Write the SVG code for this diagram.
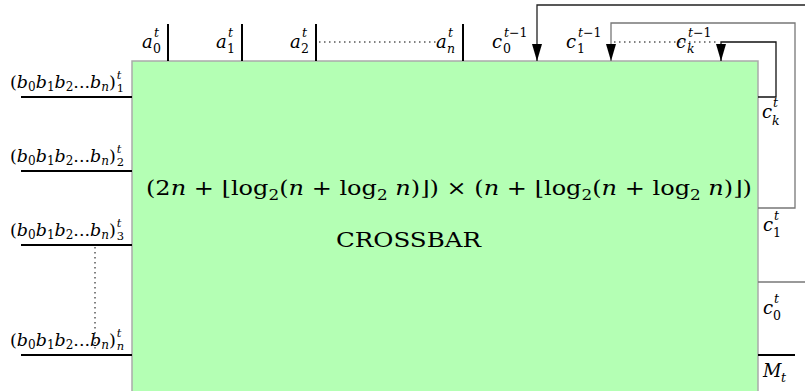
<svg xmlns="http://www.w3.org/2000/svg" width="805" height="391" viewBox="0 0 805 391">
<defs>
<style>
.m{font-family:"DejaVu Serif","Liberation Serif",serif;font-size:18px;font-style:italic;fill:#000}
.s{font-size:12.5px;font-style:normal}
.si{font-size:12.5px;font-style:italic}
.lb{font-family:"DejaVu Serif","Liberation Serif",serif;font-size:17.5px;fill:#000}
.big{font-family:"DejaVu Serif","Liberation Serif",serif;font-size:20px;fill:#000}
.i{font-style:italic}
.in{stroke:#000;stroke-width:2;fill:none}
.fb{fill:none;stroke-width:1.3}
.dot{stroke:#000;stroke-width:1;stroke-dasharray:1.5 3.5;fill:none}
</style>
<marker id="arr" viewBox="0 0 17 10" refX="17" refY="5" markerWidth="17" markerHeight="10" markerUnits="userSpaceOnUse" orient="auto">
<path d="M0,0 L17,5 L0,10 Z" fill="#000"/>
</marker>
</defs>

<g id="crossbar">
<rect x="132" y="61" width="626" height="340" fill="#b4ffb4" stroke="#aaaaaa" stroke-width="1.5"/>
<text class="big" x="146" y="195" textLength="606" lengthAdjust="spacingAndGlyphs">(2<tspan class="i">n</tspan> + ⌊log<tspan dy="5" font-size="14">2</tspan><tspan dy="-5">(</tspan><tspan class="i">n</tspan> + log<tspan dy="5" font-size="14">2</tspan><tspan dy="-5"> </tspan><tspan class="i">n</tspan>)⌋) × (<tspan class="i">n</tspan> + ⌊log<tspan dy="5" font-size="14">2</tspan><tspan dy="-5">(</tspan><tspan class="i">n</tspan> + log<tspan dy="5" font-size="14">2</tspan><tspan dy="-5"> </tspan><tspan class="i">n</tspan>)⌋)</text>
<text class="big" x="336" y="247" textLength="145" lengthAdjust="spacingAndGlyphs">CROSSBAR</text>
</g>

<g id="connectors">
<line class="in" x1="168" y1="24" x2="168" y2="61"/>
<line class="in" x1="242" y1="24" x2="242" y2="61"/>
<line class="in" x1="316" y1="24" x2="316" y2="61"/>
<line class="in" x1="463" y1="24" x2="463" y2="61"/>
<line class="dot" x1="319" y1="42" x2="437" y2="42"/>
<line class="in" x1="21" y1="97" x2="132" y2="97"/>
<line class="in" x1="21" y1="171" x2="132" y2="171"/>
<line class="in" x1="21" y1="245" x2="132" y2="245"/>
<line class="in" x1="21" y1="355" x2="132" y2="355"/>
<line class="dot" x1="95" y1="247" x2="95" y2="352"/>
<path class="fb" stroke="#222" d="M805,5 H537 V61" marker-end="url(#arr)"/>
<path class="fb" stroke="#777" stroke-width="1.6" d="M758,208 H795 V23 H611 V61" marker-end="url(#arr)"/>
<path class="fb" stroke="#111" d="M758,97 H776 V42 H721 V61" marker-end="url(#arr)"/>
<line class="dot" x1="614" y1="42" x2="718" y2="42"/>
<line x1="758" y1="282" x2="805" y2="282" stroke="#777" stroke-width="1.3"/>
<line x1="758" y1="355" x2="795" y2="355" stroke="#000" stroke-width="2"/>
</g>

<g id="label-a0"><text class="m" x="142" y="48">a<tspan class="si" x="154" y="37">t</tspan><tspan class="s" x="153" y="53">0</tspan></text></g>
<g id="label-a1"><text class="m" x="216" y="48">a<tspan class="si" x="228" y="37">t</tspan><tspan class="s" x="227" y="53">1</tspan></text></g>
<g id="label-a2"><text class="m" x="290" y="48">a<tspan class="si" x="302" y="37">t</tspan><tspan class="s" x="301" y="53">2</tspan></text></g>
<g id="label-an"><text class="m" x="436" y="48">a<tspan class="si" x="448" y="37">t</tspan><tspan class="si" x="447" y="53">n</tspan></text></g>

<g id="label-c0prev"><text class="m" x="492" y="48">c<tspan class="si" x="504" y="37">t</tspan><tspan class="s">−1</tspan><tspan class="s" x="503" y="53">0</tspan></text></g>
<g id="label-c1prev"><text class="m" x="566" y="48">c<tspan class="si" x="578" y="37">t</tspan><tspan class="s">−1</tspan><tspan class="s" x="577" y="53">1</tspan></text></g>
<g id="label-ckprev"><text class="m" x="676" y="48">c<tspan class="si" x="688" y="37">t</tspan><tspan class="s">−1</tspan><tspan class="si" x="687" y="53">k</tspan></text></g>

<g id="label-ckt"><text class="m" x="762" y="118">c<tspan class="si" x="773" y="107">t</tspan><tspan class="si" x="772" y="125">k</tspan></text></g>
<g id="label-c1t"><text class="m" x="763" y="231">c<tspan class="si" x="774" y="220">t</tspan><tspan class="s" x="773" y="237">1</tspan></text></g>
<g id="label-c0t"><text class="m" x="763" y="314">c<tspan class="si" x="774" y="303">t</tspan><tspan class="s" x="773" y="320">0</tspan></text></g>
<g id="label-mt"><text class="m" x="763" y="377">M<tspan class="si" x="781" y="382">t</tspan></text></g>

<g id="label-b1"><text class="lb" x="10" y="88">(<tspan class="i">b</tspan><tspan font-size="12" dy="3">0</tspan><tspan class="i" dy="-3">b</tspan><tspan font-size="12" dy="3">1</tspan><tspan class="i" dy="-3">b</tspan><tspan font-size="12" dy="3">2</tspan><tspan dy="-3">...</tspan><tspan class="i">b</tspan><tspan class="i" font-size="12" dy="3">n</tspan><tspan dy="-3">)</tspan><tspan class="i" font-size="11.5" dx="1" dy="-9">t</tspan><tspan font-size="11.5" dx="-4.6" dy="13">1</tspan></text></g>
<g id="label-b2"><text class="lb" x="10" y="162">(<tspan class="i">b</tspan><tspan font-size="12" dy="3">0</tspan><tspan class="i" dy="-3">b</tspan><tspan font-size="12" dy="3">1</tspan><tspan class="i" dy="-3">b</tspan><tspan font-size="12" dy="3">2</tspan><tspan dy="-3">...</tspan><tspan class="i">b</tspan><tspan class="i" font-size="12" dy="3">n</tspan><tspan dy="-3">)</tspan><tspan class="i" font-size="11.5" dx="1" dy="-9">t</tspan><tspan font-size="11.5" dx="-4.6" dy="13">2</tspan></text></g>
<g id="label-b3"><text class="lb" x="10" y="236">(<tspan class="i">b</tspan><tspan font-size="12" dy="3">0</tspan><tspan class="i" dy="-3">b</tspan><tspan font-size="12" dy="3">1</tspan><tspan class="i" dy="-3">b</tspan><tspan font-size="12" dy="3">2</tspan><tspan dy="-3">...</tspan><tspan class="i">b</tspan><tspan class="i" font-size="12" dy="3">n</tspan><tspan dy="-3">)</tspan><tspan class="i" font-size="11.5" dx="1" dy="-9">t</tspan><tspan font-size="11.5" dx="-4.6" dy="13">3</tspan></text></g>
<g id="label-bn"><text class="lb" x="10" y="346">(<tspan class="i">b</tspan><tspan font-size="12" dy="3">0</tspan><tspan class="i" dy="-3">b</tspan><tspan font-size="12" dy="3">1</tspan><tspan class="i" dy="-3">b</tspan><tspan font-size="12" dy="3">2</tspan><tspan dy="-3">...</tspan><tspan class="i">b</tspan><tspan class="i" font-size="12" dy="3">n</tspan><tspan dy="-3">)</tspan><tspan class="i" font-size="11.5" dx="1" dy="-9">t</tspan><tspan class="i" font-size="11.5" dx="-4.6" dy="13">n</tspan></text></g>
</svg>
